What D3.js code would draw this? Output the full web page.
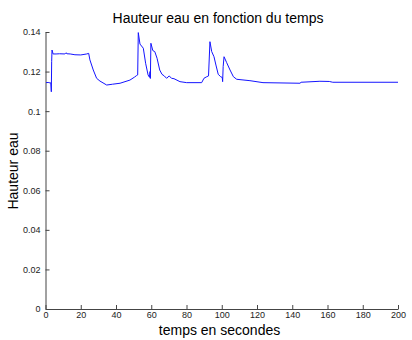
<!DOCTYPE html>
<html><head><meta charset="utf-8">
<script src="https://cdn.jsdelivr.net/npm/d3@7"></script>
<style>
html,body{margin:0;padding:0;background:#fff;}
svg{display:block;}
</style></head>
<body>
<svg id="chart" width="412" height="340"></svg>
<script>
const titleText = "Hauteur eau en fonction du temps";
const xLabelText = "temps en secondes";
const yLabelText = "Hauteur eau";
const xTicks = [0,20,40,60,80,100,120,140,160,180,200];
const yTicks = [0,0.02,0.04,0.06,0.08,0.1,0.12,0.14];
const yTickLabels = ["0","0.02","0.04","0.06","0.08","0.1","0.12","0.14"];

const time = [0.3,1.5,2.5,3.0,3.3,3.5,3.7,4.3,6,8,11,11.6,12.2,14,16.7,20,23.4,24.5,25.2,27.1,29,30.9,34.7,38,42.3,47.9,50.5,51.7,52.3,52.65,53.6,55.5,56.8,58.2,59.0,59.3,59.5,59.8,60.9,62.0,63.3,64.8,66.1,67.4,68.7,70.2,71.5,72.9,76.3,80.1,88.6,89.9,91.5,92.5,93.3,94.3,95.6,96.7,98.0,99.4,100.3,100.5,100.8,101.3,102.8,104.7,106.6,108.5,116,123.4,144.4,145,155.7,161,163,200];
const height = [0.1144,0.1145,0.1143,0.1143,0.1098,0.1250,0.1309,0.1289,0.1289,0.1290,0.1289,0.1295,0.1290,0.1289,0.1285,0.1284,0.1289,0.1292,0.1259,0.1208,0.1166,0.1152,0.1132,0.1136,0.1141,0.1157,0.1172,0.1180,0.1183,0.1397,0.1339,0.1318,0.1242,0.1183,0.1171,0.1200,0.1165,0.1343,0.1306,0.1301,0.1267,0.1208,0.1186,0.1178,0.1166,0.1178,0.1166,0.1164,0.1149,0.1144,0.1144,0.1166,0.1174,0.1178,0.1351,0.1301,0.1275,0.1233,0.1186,0.1174,0.1170,0.1149,0.1225,0.1275,0.1245,0.1208,0.1174,0.1161,0.1154,0.1144,0.1141,0.1146,0.1151,0.1150,0.1146,0.1146];

const svg = d3.select("#chart");
const x = d3.scaleLinear().domain([0,200]).range([45.5,398]);
const y = d3.scaleLinear().domain([0,0.14]).range([309,32]);
const axisColor = "#444";
const tickFont = "'Liberation Sans Narrow','Arial Narrow',sans-serif";

const xAxis = svg.append("g").attr("transform","translate(0,309)")
  .call(d3.axisBottom(x).tickValues(xTicks).tickSizeInner(-4).tickSizeOuter(0).tickPadding(3).tickFormat(d3.format("d")));
const yAxis = svg.append("g").attr("transform","translate(45.5,0)")
  .call(d3.axisLeft(y).tickValues(yTicks).tickSizeInner(-4).tickSizeOuter(0).tickPadding(5).tickFormat((d,i)=>yTickLabels[i]));
[xAxis,yAxis].forEach(g=>{
  g.select(".domain").attr("stroke",axisColor);
  g.selectAll(".tick line").attr("stroke",axisColor);
  g.selectAll(".tick text").attr("fill","#222").style("font-family",tickFont).style("font-size","9px");
});

const line = d3.line().x((d,i)=>x(time[i])).y((d,i)=>y(height[i]));
svg.append("path").datum(height).attr("d",line)
  .attr("fill","none").attr("stroke","#1414ff").attr("stroke-width",1);

svg.append("text").attr("x",218).attr("y",22.5).attr("text-anchor","middle")
  .style("font-family","'Liberation Sans',Arial,sans-serif").style("font-size","14px").attr("fill","#000").text(titleText);
svg.append("text").attr("x",219.5).attr("y",335).attr("text-anchor","middle")
  .style("font-family","'Liberation Sans',Arial,sans-serif").style("font-size","14px").attr("fill","#000").text(xLabelText);
svg.append("text").attr("transform","translate(18,171) rotate(-90)").attr("text-anchor","middle")
  .style("font-family","'Liberation Sans',Arial,sans-serif").style("font-size","14px").attr("fill","#000").text(yLabelText);
</script>
</body></html>
